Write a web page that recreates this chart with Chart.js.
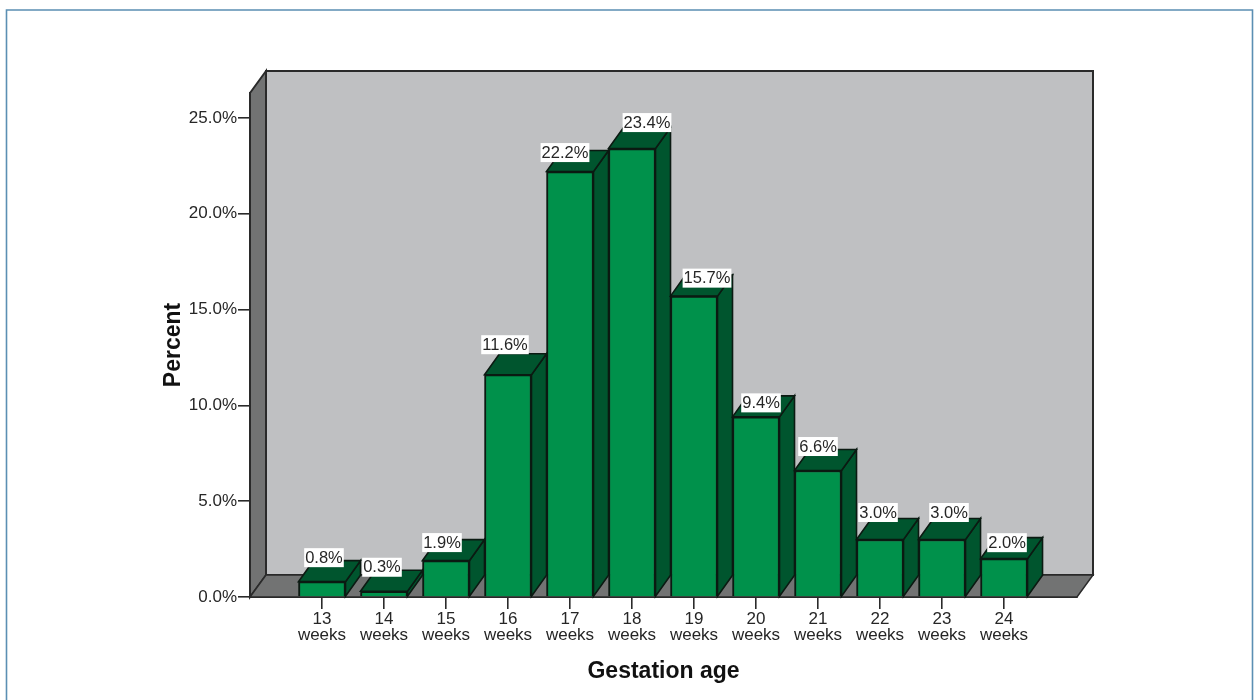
<!DOCTYPE html>
<html>
<head>
<meta charset="utf-8">
<style>
html,body{margin:0;padding:0;background:#fff;overflow:hidden}
#wrap{position:absolute;left:0;top:0;width:1259px;height:700px}
</style>
<script src="https://cdn.jsdelivr.net/npm/chart.js@4"></script>
</head>
<body>
<div id="wrap"><canvas id="c" width="1259" height="700"></canvas></div>
<script>
// Gestation age distribution, weeks and percentage of cases
const weeks = [13, 14, 15, 16, 17, 18, 19, 20, 21, 22, 23, 24];
const percent = [0.8, 0.3, 1.9, 11.6, 22.2, 23.4, 15.7, 9.4, 6.6, 3.0, 3.0, 2.0];
const yTicks = [0, 5, 10, 15, 20, 25];
// Hand placement of each value label relative to its bar
const labelShift = [2, -2, -4, -3, -5, 15, 13, 5, 0, -2, 7, 3];
const labelDrop = [0, 0, 6, -6, 5, -2, 6, 10, 0, -3, -3, 8];

const FONT = '"Liberation Sans", Arial, sans-serif';
const DEPTH_X = 15, DEPTH_Y = 21;      // bar depth
const WALL_X = 16, WALL_Y = 22;        // chart box depth
const C = {
  front: '#00914b', dark: '#00552e', edge: '#0b1a12',
  wall: '#bfc0c2', side: '#727373', line: '#2a2a2a', frame: '#5b8fb3', text: '#262626'
};

function poly(ctx, pts, fill, stroke, lw) {
  ctx.beginPath();
  pts.forEach((p, i) => i ? ctx.lineTo(p[0], p[1]) : ctx.moveTo(p[0], p[1]));
  ctx.closePath();
  if (fill) { ctx.fillStyle = fill; ctx.fill(); }
  if (stroke) { ctx.strokeStyle = stroke; ctx.lineWidth = lw; ctx.lineJoin = 'miter'; ctx.stroke(); }
}

// Panel frame, back wall, left wall, floor and the side and top faces of the bars
const box3d = {
  id: 'box3d',
  beforeDatasetsDraw(chart) {
    const { ctx, chartArea: a } = chart;
    ctx.save();
    // outer panel rule, open at the bottom
    ctx.beginPath();
    ctx.moveTo(6.5, 700); ctx.lineTo(6.5, 10); ctx.lineTo(1252.5, 10); ctx.lineTo(1252.5, 700);
    ctx.strokeStyle = C.frame; ctx.lineWidth = 1.6; ctx.stroke();

    const bl = a.left + WALL_X, br = a.right + WALL_X - 0;
    const bt = a.top - WALL_Y, bb = a.bottom - WALL_Y;
    poly(ctx, [[bl, bt], [br, bt], [br, bb], [bl, bb]], C.wall, C.line, 2);
    poly(ctx, [[a.left, a.top], [bl, bt], [bl, bb], [a.left, a.bottom]], C.side, C.line, 2);
    poly(ctx, [[a.left, a.bottom], [bl, bb], [br, bb], [a.right, a.bottom]], C.side, C.line, 1.5);

    chart.getDatasetMeta(0).data.forEach(bar => {
      const l = bar.x - bar.width / 2, r = bar.x + bar.width / 2;
      const t = bar.y, b = bar.base;
      poly(ctx, [[r, t], [r + DEPTH_X, t - DEPTH_Y], [r + DEPTH_X, b - DEPTH_Y], [r, b]], C.dark, C.edge, 1.6);
      poly(ctx, [[l, t], [l + DEPTH_X, t - DEPTH_Y], [r + DEPTH_X, t - DEPTH_Y], [r, t]], C.dark, C.edge, 1.6);
    });
    ctx.restore();
  },
  // Value labels on white plates
  afterDatasetsDraw(chart) {
    const { ctx } = chart;
    ctx.save();
    ctx.font = '16.5px ' + FONT;
    ctx.textAlign = 'center';
    ctx.textBaseline = 'middle';
    chart.getDatasetMeta(0).data.forEach((bar, i) => {
      const s = percent[i].toFixed(1) + '%';
      const w = ctx.measureText(s).width + 2;
      const cx = bar.x + labelShift[i], cy = bar.y - 24 + labelDrop[i];
      ctx.fillStyle = '#fff';
      ctx.fillRect(cx - w / 2, cy - 9.5, w, 19);
      ctx.fillStyle = C.text;
      ctx.fillText(s, cx, cy + 0.5);
    });
    ctx.restore();
  }
};

new Chart(document.getElementById('c'), {
  type: 'bar',
  data: {
    datasets: [{
      data: weeks.map((w, i) => ({ x: w, y: percent[i] })),
      backgroundColor: C.front,
      borderColor: C.edge,
      borderWidth: 2,
      barThickness: 47
    }]
  },
  plugins: [box3d],
  options: {
    responsive: false,
    animation: false,
    layout: { padding: { left: 160, right: 182, top: 93, bottom: 15 } },
    plugins: { legend: { display: false }, tooltip: { enabled: false } },
    scales: {
      x: {
        type: 'linear',
        offset: false,
        min: 11.839,
        max: 25.177,
        afterBuildTicks(s) { s.ticks = weeks.map(v => ({ value: v })); },
        afterFit(s) { s.height = 88; },
        grid: { offset: false, drawOnChartArea: false, drawTicks: true, tickLength: 12, color: C.line, lineWidth: 1.6 },
        border: { color: C.line, width: 2 },
        ticks: {
          autoSkip: false, maxRotation: 0, minRotation: 0, padding: 2,
          color: C.text, font: { family: FONT, size: 17, lineHeight: 0.96 },
          callback: v => [String(v), 'weeks']
        },
        title: {
          display: true, text: 'Gestation age', color: '#111',
          font: { family: FONT, size: 23, weight: 'bold' }, padding: { top: 0, bottom: 0 }
        }
      },
      y: {
        min: 0,
        max: 26.3,
        afterBuildTicks(s) { s.ticks = yTicks.map(v => ({ value: v })); },
        afterFit(s) { s.width = 90; },
        grid: { drawOnChartArea: false, drawTicks: true, tickLength: 12, color: C.line, lineWidth: 1.6 },
        border: { color: C.line, width: 2 },
        ticks: {
          padding: 1, color: C.text, font: { family: FONT, size: 17 },
          callback: v => v.toFixed(1) + '%'
        },
        title: {
          display: true, text: 'Percent', color: '#111',
          font: { family: FONT, size: 23, weight: 'bold' }, padding: { top: 0, bottom: 0 }
        }
      }
    }
  }
});
</script>
</body>
</html>
